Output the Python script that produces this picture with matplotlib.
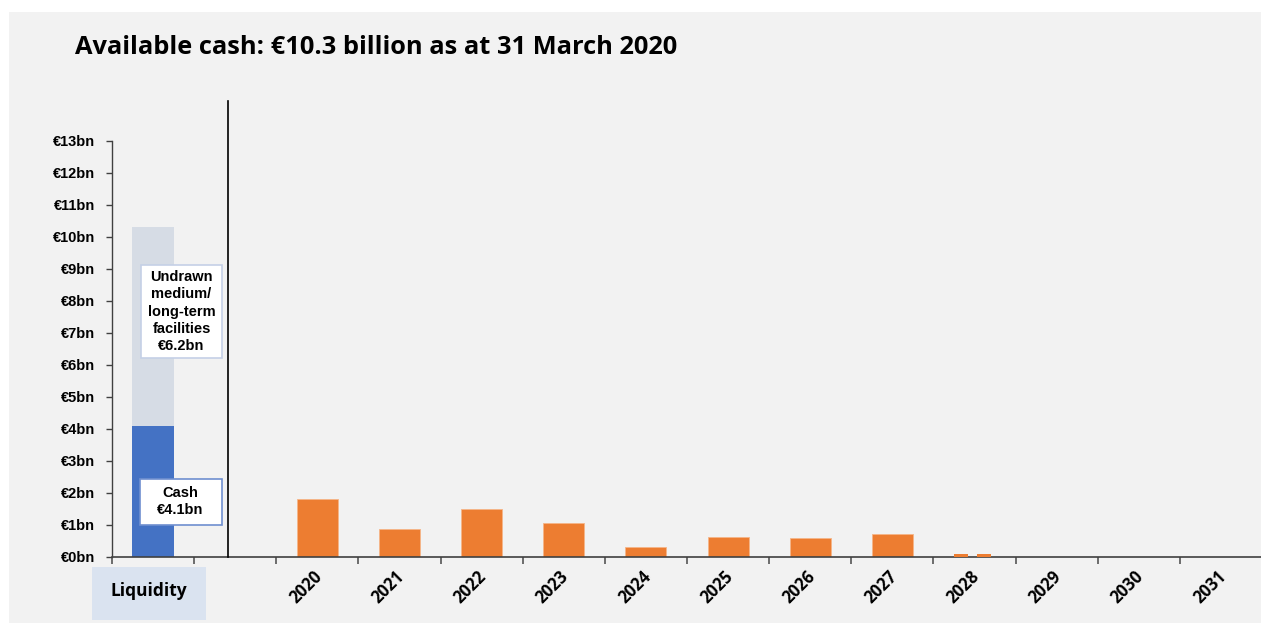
"""Available cash chart: liquidity stack plus debt maturity profile."""

import matplotlib
matplotlib.use("Agg")
import matplotlib.pyplot as plt
from matplotlib.patches import Rectangle
import numpy as np

# data (EUR bn)
cash = 4.1
undrawn = 6.2
years = ["2020", "2021", "2022", "2023", "2024", "2025",
         "2026", "2027", "2028", "2029", "2030", "2031"]
maturities = [1.81, 0.89, 1.50, 1.06, 0.30, 0.63, 0.58, 0.73, 0.0, 0.0, 0.0, 0.0]
split_2028 = [0.1, 0.1]   # 2028 shows two small slivers
yticks = list(range(0, 14))
ytick_labels = [f"€{v}bn" for v in yticks]

BLUE = "#4472C4"
LIGHT = "#D6DCE5"
ORANGE = "#ED7D31"
PANEL = "#F2F2F2"

fig = plt.figure(figsize=(12.61, 6.23), dpi=100)
fig.patch.set_facecolor("white")
fig.patches.append(Rectangle((9 / 1261, 0), 1, 1 - 12 / 623, transform=fig.transFigure,
                             facecolor=PANEL, edgecolor="none", zorder=-10))

ax = fig.add_axes([112 / 1261, 66 / 623, 1150 / 1261, 416 / 623])
ax.set_facecolor("none")
ax.set_xlim(-0.5, 13.5)
ax.set_ylim(0, 13)

# liquidity stacked bar at slot 0
ax.bar(0, cash, width=0.51, color=BLUE, zorder=2)
ax.bar(0, undrawn, bottom=cash, width=0.51, color=LIGHT, zorder=2)

# maturity bars start at slot 2
xm = np.arange(len(years)) + 2
ax.bar(xm, maturities, width=0.5, color=ORANGE, edgecolor="#F5B588", linewidth=0.6, zorder=2)
i28 = years.index("2028") + 2
ax.bar([i28 - 0.17, i28 + 0.12], split_2028, width=0.17, color=ORANGE, zorder=4)

# divider
ax.plot([0.912, 0.912], [0, 14.25], color="black", lw=1.2, clip_on=False, zorder=3)

# axes styling
for s in ("top", "right"):
    ax.spines[s].set_visible(False)
ax.spines["left"].set_color("#404040")
ax.spines["bottom"].set_color("#404040")
ax.spines["left"].set_linewidth(1.0)
ax.spines["bottom"].set_linewidth(1.2)
ax.set_yticks(yticks)
ax.set_yticklabels(ytick_labels, fontfamily="Liberation Sans", fontweight="bold", fontsize=10.5)
ax.tick_params(axis="y", length=4, width=1, color="#404040", pad=8)
ax.set_xticks(np.arange(-0.5, 13.0, 1.0))
ax.set_xticklabels([])
ax.tick_params(axis="x", length=5, width=1.2, color="#555555")

for x, lab in zip(xm, years):
    ax.annotate(lab, xy=(x, 0), xytext=(-8, -22), textcoords="offset points",
                rotation=45, ha="center", va="center", fontfamily="Open Sans",
                fontweight="bold", fontsize=12, color="black")

# label boxes
ax.add_patch(Rectangle((-0.147, 6.22), 0.986, 2.9, facecolor="white",
                       edgecolor="#C5D0E6", lw=1.2, zorder=4))
ax.text(0.346, 7.67, "Undrawn\nmedium/\nlong-term\nfacilities\n€6.2bn", ha="center", va="center",
        fontfamily="Liberation Sans", fontweight="bold", fontsize=10.5, linespacing=1.28, zorder=5)
ax.add_patch(Rectangle((-0.159, 1.0), 1.0, 1.44, facecolor="white",
                       edgecolor="#6F8FD0", lw=1.2, zorder=4))
ax.text(0.334, 1.72, "Cash\n€4.1bn", ha="center", va="center",
        fontfamily="Liberation Sans", fontweight="bold", fontsize=10.5, linespacing=1.28, zorder=5)

ax.add_patch(Rectangle((-0.743, -1.97), 1.387, 1.66, facecolor="#DAE3F0",
                       edgecolor="none", clip_on=False, zorder=1))
ax.text(-0.05, -1.07, "Liquidity", ha="center", va="center", fontfamily="Open Sans",
        fontweight="bold", fontsize=12.5, clip_on=False)

fig.text(75 / 1261, 1 - 54 / 623, "Available cash: €10.3 billion as at 31 March 2020",
         ha="left", va="baseline", fontfamily="Open Sans", fontweight="bold", fontsize=18.3)

fig.savefig("out.png", dpi=100, facecolor=fig.get_facecolor())
